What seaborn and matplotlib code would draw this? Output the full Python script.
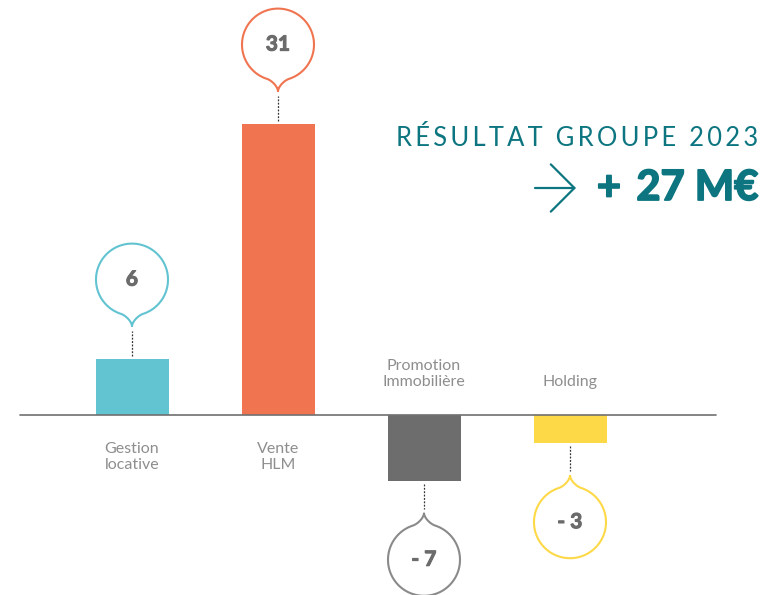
import numpy as np
import matplotlib
matplotlib.use('Agg')
import matplotlib.pyplot as plt
import matplotlib.patheffects as pe
import seaborn as sns
from matplotlib.patches import Polygon

# data
categories = ['Gestion\nlocative', 'Vente\nHLM', 'Promotion\nImmobilière', 'Holding']
values = [6, 31, -7, -3]
value_labels = ['6', '31', '- 7', '- 3']
bar_colors = ['#62c3d1', '#f07450', '#6d6d6d', '#fdd948']
edge_colors = ['#62c3d1', '#f07450', '#8a8a8a', '#fdd948']
title = 'RÉSULTAT GROUPE 2023'
total_label = '+ 27 M€'

W, H = 762, 595
TEAL = '#0c7580'
GREY_TXT = '#8e8e8e'
NUM_TXT = '#6b6b6b'

sns.set_theme(style='white')
plt.rcParams['font.family'] = ['Lato', 'DejaVu Sans']

fig = plt.figure(figsize=(W / 100, H / 100), dpi=100)
ax = fig.add_axes([0, 0, 1, 1])

pos = list(range(len(values)))
sns.barplot(x=pos, y=values, hue=pos, palette=bar_colors, width=0.5,
            legend=False, ax=ax, saturation=1, edgecolor='none')

# axis limits so that pixel layout matches the reference
ppx = 146.0          # pixels per category
ppy = 9.4            # pixels per unit
x0_px, base_px = 132, 415
xlim = (-x0_px / ppx, (W - x0_px) / ppx)
ylim = (-(H - base_px) / ppy, base_px / ppy)
ax.set_xlim(*xlim)
ax.set_ylim(*ylim)
ax.axis('off')

# baseline
ax.plot([(20 - x0_px) / ppx, (716 - x0_px) / ppx], [0, 0], color='#707070', lw=1.2, zorder=3)

# bubble shape in pixels, tip at (0,0), pointing towards bar
r, gap = 36.0, 11.0
c = r + gap
th_r = np.deg2rad(-72)
th_l = np.deg2rad(-108)
pr = np.array([r * np.cos(th_r), c + r * np.sin(th_r)])
tan_r = np.array([-np.sin(th_r), np.cos(th_r)])
t = np.linspace(0, 1, 20)[:, None]
p0, p1, p2, p3 = np.array([0, 0]), np.array([0, 5.0]), pr - tan_r * 5, pr
right_tail = ((1 - t) ** 3 * p0 + 3 * (1 - t) ** 2 * t * p1
              + 3 * (1 - t) * t ** 2 * p2 + t ** 3 * p3)
ang = np.linspace(th_r, th_l + 2 * np.pi, 120)
arc = np.column_stack([r * np.cos(ang), c + r * np.sin(ang)])
left_tail = right_tail[::-1] * np.array([-1, 1])
bubble_px = np.vstack([right_tail, arc, left_tail])

for i, (v, lab, ec, cat) in enumerate(zip(values, value_labels, edge_colors, categories)):
    s = 1 if v > 0 else -1
    tip = v + s * 32 / ppy
    # dashed connector
    ax.plot([i, i], [v + s * 3 / ppy, v + s * 28 / ppy], color='#333333',
            lw=0.9, ls=(0, (1.5, 1.2)), zorder=3)
    verts = np.column_stack([i + bubble_px[:, 0] / ppx, tip + s * bubble_px[:, 1] / ppy])
    ax.add_patch(Polygon(verts, closed=True, facecolor='white', edgecolor=ec,
                         lw=1.5, zorder=4))
    ax.text(i, tip + s * c / ppy, lab, ha='center', va='center', fontsize=15,
            fontweight='bold', color=NUM_TXT, zorder=5,
            path_effects=[pe.withStroke(linewidth=0.8, foreground=NUM_TXT)])
    # category label on the other side of the baseline
    if v > 0:
        ax.text(i, -27 / ppy, cat, ha='center', va='top', fontsize=11.5,
                color=GREY_TXT, linespacing=1.2)
    else:
        ax.text(i, 26 / ppy, cat, ha='center', va='bottom', fontsize=11.5,
                color=GREY_TXT, linespacing=1.2)

# headline
fig.text(758 / W, 1 - 138 / H, '\u2009'.join(title), ha='right', va='center',
         fontsize=18.4, color=TEAL)
fig.text(758 / W, 1 - 188 / H, '+\u2009 27 M€', ha='right', va='center',
         fontsize=30, fontweight='bold', color=TEAL,
         path_effects=[pe.withStroke(linewidth=1.3, foreground=TEAL)])
ax.annotate('', xy=(576 / W, 1 - 188 / H), xytext=(535 / W, 1 - 188 / H),
            xycoords='figure fraction', textcoords='figure fraction',
            arrowprops=dict(arrowstyle='->,head_length=0.85,head_width=0.85',
                            color=TEAL, lw=1.6, mutation_scale=20,
                            shrinkA=0, shrinkB=0))

fig.savefig('out.png', dpi=100, facecolor='white')
